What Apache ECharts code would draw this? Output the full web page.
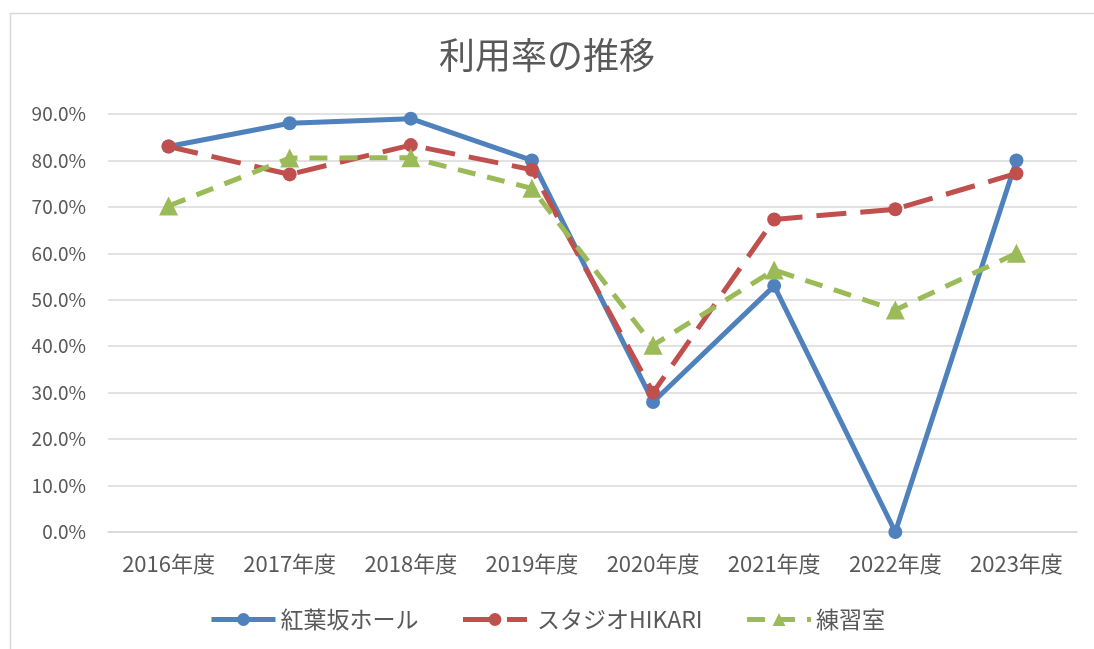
<!DOCTYPE html>
<html>
<head>
<meta charset="utf-8">
<script src="https://cdn.jsdelivr.net/npm/echarts@6/dist/echarts.min.js"></script>
<style>
  html, body { margin: 0; padding: 0; background: #fff; }
  #chart { width: 1094px; height: 649px; }
</style>
</head>
<body>
<div id="chart"></div>
<script>
// 年度
const years = ['2016年度', '2017年度', '2018年度', '2019年度', '2020年度', '2021年度', '2022年度', '2023年度']
// 利用率 (%)
const momijizaka = [83.0, 88.0, 89.0, 80.0, 28.0, 53.0, 0.0, 80.0]
const studioHikari = [83.0, 77.0, 83.3, 78.0, 30.0, 67.3, 69.5, 77.2]
const renshushitsu = [70.2, 80.5, 80.6, 74.0, 40.2, 56.4, 47.8, 60.0]

const font = "'Noto Sans CJK JP', 'Noto Sans', sans-serif"
const txt = '#595959'

let myChart = echarts.init(document.getElementById('chart'))

let options = {
  animation: false,
  textStyle: { fontFamily: font },
  color: ['#4F81BD', '#C0504D', '#9BBB59'],
  title: {
    text: '利用率の推移',
    left: 'center',
    top: 32,
    textStyle: { fontFamily: font, fontSize: 36, fontWeight: 'normal', color: txt }
  },
  graphic: [
    {
      type: 'rect',
      left: 8, top: 11,
      shape: { width: 1100, height: 700 },
      style: { fill: 'none', stroke: '#d9d9d9', lineWidth: 1.5 },
      silent: true
    }
  ],
  legend: {
    bottom: 13,
    left: 'center',
    itemWidth: 64,
    itemHeight: 16,
    itemGap: 42,
    lineStyle: { width: 5 },
    textStyle: { fontFamily: font, fontSize: 23, color: txt },
    data: ['紅葉坂ホール', ' スタジオHIKARI', '練習室']
  },
  grid: { left: 108, right: 17, top: 114, bottom: 117 },
  xAxis: {
    type: 'category',
    data: years,
    boundaryGap: true,
    axisLine: { lineStyle: { color: '#d9d9d9', width: 1.5 } },
    axisTick: { show: false },
    axisLabel: { fontFamily: font, fontSize: 22, color: txt, margin: 21 }
  },
  yAxis: {
    type: 'value',
    min: 0,
    max: 90,
    interval: 10,
    axisLine: { show: false },
    axisTick: { show: false },
    splitLine: { lineStyle: { color: '#d9d9d9', width: 1.5 } },
    axisLabel: {
      fontFamily: font, fontSize: 19, color: txt, margin: 22,
      formatter: v => v.toFixed(1) + '%'
    }
  },
  series: [
    {
      name: '紅葉坂ホール',
      type: 'line',
      data: momijizaka,
      symbol: 'circle',
      symbolSize: 14,
      lineStyle: { width: 5 },
      z: 3
    },
    {
      name: ' スタジオHIKARI',
      type: 'line',
      data: studioHikari,
      symbol: 'circle',
      symbolSize: 14,
      lineStyle: { width: 5, type: [30, 14] },
      z: 4
    },
    {
      name: '練習室',
      type: 'line',
      data: renshushitsu,
      symbol: 'triangle',
      symbolSize: 19,
      lineStyle: { width: 5, type: [18, 12] },
      z: 5
    }
  ]
}
myChart.setOption(options)
</script>
</body>
</html>
